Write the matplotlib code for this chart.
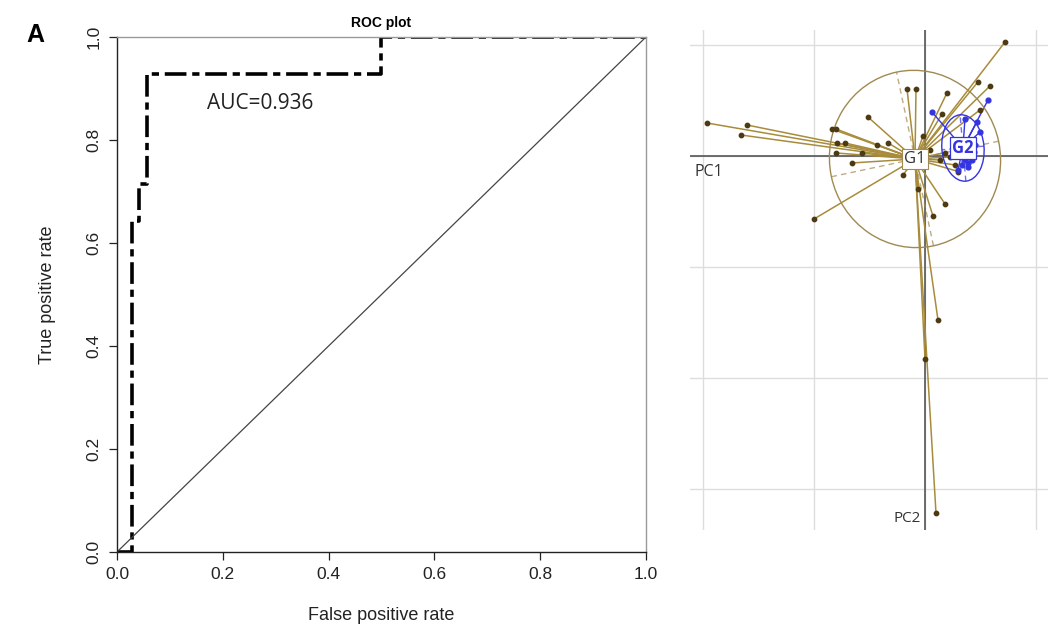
import numpy as np
import matplotlib
matplotlib.use("Agg")
import matplotlib.pyplot as plt
from matplotlib.patches import Ellipse

# ---------------- ROC data ----------------
roc_fpr = [0.0, 0.028, 0.028, 0.042, 0.042, 0.056, 0.056, 0.5, 0.5, 1.0]
roc_tpr = [0.0, 0.0, 0.643, 0.643, 0.714, 0.714, 0.929, 0.929, 1.0, 1.0]
roc_ticks = [0.0, 0.2, 0.4, 0.6, 0.8, 1.0]
roc_tick_labels = ["0.0", "0.2", "0.4", "0.6", "0.8", "1.0"]
auc_text = "AUC=0.936"

# ---------------- PCA (class scatter) data ----------------
g1_x = [-1.964, -1.604, -1.658, -0.838, -0.802, -0.793, -0.721, -0.802, -0.568,
        -0.658, -0.514, -0.432, -0.333, -0.162, -0.081, 0.198, -0.198, -0.063,
        0.180, 0.072, -1.0, -0.018, 0.153, 0.477, 0.586, 0.721, 0.495, 0.117,
        0.0, 0.099, 0.045, 0.135, 0.225, 0.27, 0.30, 0.18]
g1_y = [0.297, 0.279, 0.189, 0.243, 0.243, 0.117, 0.117, 0.027, 0.027,
        -0.063, 0.351, 0.099, 0.117, 0.604, 0.604, 0.568, -0.171, -0.297,
        -0.432, -0.541, -0.568, 0.180, 0.378, 0.667, 0.631, 1.027, 0.414, -1.477,
        -1.829, -3.216, 0.054, -0.036, -0.009, -0.081, -0.14, 0.03]
g2_x = [0.063, 0.568, 0.360, 0.468, 0.495, 0.36, 0.387, 0.423, 0.333, 0.405,
        0.369, 0.441, 0.297, 0.39, 0.45]
g2_y = [0.396, 0.505, 0.333, 0.306, 0.216, -0.036, -0.063, -0.036, -0.081, -0.009,
        0.009, 0.036, -0.126, -0.10, 0.10]
g1_center = (-0.09, -0.027)
g2_center = (0.342, 0.072)
g1_ell = (0.80, 0.77, 102)   # semi-axis a, semi-axis b, angle (deg)
g2_ell = (0.30, 0.19, 95)
class_labels = ["G1", "G2"]
axis_labels = ["PC1", "PC2"]

plt.rcParams["font.family"] = ["Liberation Sans", "DejaVu Sans"]
fig = plt.figure(figsize=(10.48, 6.27), dpi=100)

# ================= ROC panel =================
ax = fig.add_axes([117/1048, 1-552/627, 529/1048, 515/627])
ax.plot(roc_fpr, roc_tpr, color="black", lw=2.6,
        linestyle=(0, (6, 1.6, 2, 1.6)), solid_capstyle="butt", dash_capstyle="butt")
ax.plot([0, 1], [0, 1], color="#444444", lw=0.9)
ax.set_xlim(0, 1)
ax.set_ylim(0, 1)
ax.set_xticks(roc_ticks)
ax.set_xticklabels(roc_tick_labels)
ax.set_yticks(roc_ticks)
ax.set_yticklabels(roc_tick_labels, rotation=90, va="center")
ax.tick_params(direction="out", length=6, width=0.9, labelsize=12.5, pad=5,
               colors="#222222")
for s in ["left", "bottom"]:
    ax.spines[s].set_color("#222222")
    ax.spines[s].set_linewidth(1.0)
for s in ["top", "right"]:
    ax.spines[s].set_color("#999999")
    ax.spines[s].set_linewidth(1.0)
ax.set_xlabel("False positive rate", fontsize=13, labelpad=18, color="#222222")
ax.set_ylabel("True positive rate", fontsize=13, labelpad=22, color="#222222")
ax.set_title("ROC plot", fontsize=10, fontweight="bold", pad=7)
ax.text(0.27, 0.87, auc_text, fontsize=15, family=["Open Sans", "DejaVu Sans"],
        color="#222222", transform=ax.transData, ha="center", va="center")
fig.text(35/1048, 1-35/627, "A", fontsize=18, fontweight="bold", ha="center", va="center")

# ================= PCA panel =================
bx = fig.add_axes([690/1048, 1-530/627, 358/1048, 500/627])
bx.set_xlim(-2.117, 1.108)
bx.set_ylim(-3.37, 1.135)
bx.set_aspect("equal", adjustable="box")
for s in bx.spines.values():
    s.set_visible(False)
bx.set_xticks([])
bx.set_yticks([])
for gx in [-2, -1, 0, 1]:
    bx.axvline(gx, color="#dddddd", lw=1.0, zorder=0)
for gy in [1, 0, -1, -2, -3]:
    bx.axhline(gy, color="#dddddd", lw=1.0, zorder=0)
bx.axhline(0, color="#555555", lw=1.2, zorder=1)
bx.axvline(0, color="#555555", lw=1.2, zorder=1)

brown_line = "#a88c3c"
brown_pt = "#4e3a12"
blue = "#3434e0"

for x, y in zip(g1_x, g1_y):
    bx.plot([g1_center[0], x], [g1_center[1], y], color=brown_line, lw=1.1, zorder=2)
bx.scatter(g1_x, g1_y, s=10, color=brown_pt, zorder=4)
for x, y in zip(g2_x, g2_y):
    bx.plot([g2_center[0], x], [g2_center[1], y], color=blue, lw=1.0, zorder=3)
bx.scatter(g2_x, g2_y, s=12, color=blue, zorder=5)

for (c, ell, col) in [(g1_center, g1_ell, "#a08a50"), (g2_center, g2_ell, blue)]:
    a, b, ang = ell
    bx.add_patch(Ellipse(c, 2*a, 2*b, angle=ang, fill=False, edgecolor=col, lw=1.0, zorder=3))
    t = np.deg2rad(ang)
    for r, th in [(a, t), (b, t + np.pi/2)]:
        dx, dy = r*np.cos(th), r*np.sin(th)
        bx.plot([c[0]-dx, c[0]+dx], [c[1]-dy, c[1]+dy], color=col, lw=1.0,
                linestyle=(0, (4, 3)), alpha=0.7, zorder=3)

bx.text(g1_center[0], g1_center[1], class_labels[0], fontsize=12,
        family=["Open Sans", "DejaVu Sans"], color="#333333", ha="center", va="center", zorder=6,
        bbox=dict(boxstyle="square,pad=0.12", fc="white", ec="#a08a50", lw=0.8))
bx.text(g2_center[0], g2_center[1], class_labels[1], fontsize=12, fontweight="bold",
        family=["Open Sans", "DejaVu Sans"], color=blue, ha="center", va="center", zorder=6,
        bbox=dict(boxstyle="square,pad=0.12", fc="white", ec=blue, lw=0.9))
bx.text(-2.08, -0.07, axis_labels[0], fontsize=11.5, family=["Open Sans", "DejaVu Sans"],
        color="#333333", ha="left", va="top")
bx.text(-0.04, -3.27, axis_labels[1], fontsize=11, family=["Open Sans", "DejaVu Sans"],
        color="#333333", ha="right", va="center")

fig.savefig("out.png", dpi=100)
